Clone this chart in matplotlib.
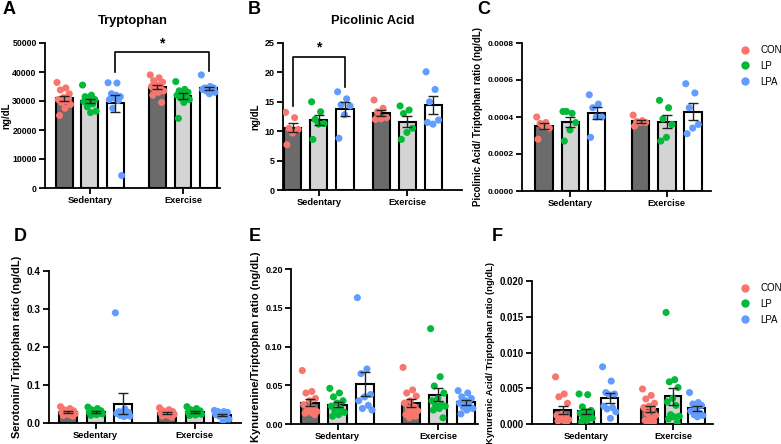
import numpy as np
import matplotlib
matplotlib.use("Agg")
import matplotlib.pyplot as plt
from matplotlib.lines import Line2D

plt.rcParams['font.family'] = ['Liberation Sans', 'DejaVu Sans']

# ---- data ----
groups = ["CON", "LP", "LPA"]
conditions = ["Sedentary", "Exercise"]

tryptophan = {
    "sed": [
        [36400, 34500, 33800, 32500, 31200, 30500, 30000, 29500, 28800, 27500, 25000, 31000],
        [35500, 32000, 31000, 30500, 30000, 29800, 29000, 28000, 26500, 26000, 31500],
        [36300, 36200, 32500, 31500, 31000, 30500, 30200, 27500, 4300, 32000],
    ],
    "ex": [
        [39000, 38000, 37000, 36500, 35500, 35000, 34500, 34000, 33500, 33000, 32000, 29500],
        [36700, 34000, 33500, 33000, 32500, 32000, 31500, 31000, 30500, 29500, 24000],
        [39000, 35000, 34500, 34500, 34000, 34000, 33800, 33500, 33000, 32500],
    ],
}
picolinic = {
    "sed": [
        [13.2, 12.3, 10.5, 10.3, 9.7, 7.7],
        [15.0, 13.3, 12.0, 11.3, 11.2, 8.6],
        [16.7, 15.5, 14.5, 14.3, 12.8, 8.8],
    ],
    "ex": [
        [15.3, 13.9, 13.3, 12.3, 12.1, 12.0],
        [14.3, 13.6, 13.0, 10.5, 9.8, 8.6],
        [20.1, 17.1, 15.0, 11.9, 11.2, 11.5],
    ],
}
pic_trp = {
    "sed": [
        [0.00040, 0.00037, 0.000365, 0.00034, 0.00035, 0.00028],
        [0.00043, 0.00042, 0.00043, 0.00037, 0.00033, 0.00027],
        [0.00052, 0.00047, 0.00045, 0.00040, 0.00040, 0.00029],
    ],
    "ex": [
        [0.00041, 0.00038, 0.000375, 0.00037, 0.00037, 0.00035],
        [0.00049, 0.00045, 0.00039, 0.00036, 0.00029, 0.00027],
        [0.00058, 0.00053, 0.00045, 0.00036, 0.00034, 0.00031],
    ],
}
ser_trp = {
    "sed": [
        [0.043, 0.038, 0.035, 0.032, 0.030, 0.028, 0.026, 0.025, 0.024, 0.022, 0.020, 0.018],
        [0.042, 0.038, 0.035, 0.032, 0.030, 0.028, 0.026, 0.025, 0.024, 0.022, 0.020],
        [0.290, 0.037, 0.030, 0.028, 0.026, 0.025, 0.022, 0.020, 0.018, 0.017],
    ],
    "ex": [
        [0.040, 0.035, 0.032, 0.030, 0.028, 0.026, 0.025, 0.023, 0.022, 0.020, 0.018, 0.015],
        [0.043, 0.038, 0.035, 0.032, 0.030, 0.028, 0.026, 0.025, 0.023, 0.021, 0.020],
        [0.033, 0.030, 0.030, 0.028, 0.025, 0.022, 0.020, 0.018, 0.010, 0.003],
    ],
}
kyn_trp = {
    "sed": [
        [0.069, 0.042, 0.040, 0.033, 0.030, 0.025, 0.020, 0.018, 0.016, 0.015, 0.014, 0.012, 0.020],
        [0.046, 0.040, 0.035, 0.030, 0.027, 0.023, 0.020, 0.017, 0.015, 0.012, 0.010],
        [0.163, 0.071, 0.065, 0.038, 0.035, 0.030, 0.024, 0.020, 0.018],
    ],
    "ex": [
        [0.073, 0.044, 0.040, 0.036, 0.030, 0.027, 0.022, 0.020, 0.017, 0.015, 0.012, 0.010, 0.008],
        [0.123, 0.061, 0.049, 0.040, 0.033, 0.030, 0.025, 0.024, 0.023, 0.020, 0.018, 0.008],
        [0.043, 0.040, 0.035, 0.033, 0.030, 0.027, 0.025, 0.022, 0.020, 0.018, 0.013],
    ],
}
kyna_trp = {
    "sed": [
        [0.0066, 0.0042, 0.0038, 0.0029, 0.0014, 0.0012, 0.0010, 0.0008, 0.0006, 0.0005, 0.0004, 0.0003],
        [0.0042, 0.0041, 0.0024, 0.0019, 0.0017, 0.0015, 0.0012, 0.0010, 0.0008, 0.0005, 0.0003, 0.0014],
        [0.0080, 0.0060, 0.0044, 0.0042, 0.0041, 0.0025, 0.0023, 0.0021, 0.0017, 0.0008],
    ],
    "ex": [
        [0.0049, 0.0040, 0.0035, 0.0029, 0.0025, 0.0023, 0.0022, 0.0015, 0.0012, 0.0008, 0.0005, 0.0003, 0.0003],
        [0.0156, 0.0062, 0.0059, 0.0051, 0.0036, 0.0031, 0.0026, 0.0013, 0.0011, 0.0010, 0.0007, 0.0002],
        [0.0044, 0.0030, 0.0028, 0.0026, 0.0022, 0.0018, 0.0015, 0.0013, 0.0012, 0.0010],
    ],
}

dot_colors = ["#F8766D", "#00BA38", "#619CFF"]
bar_colors = ["#6b6b6b", "#d4d4d4", "#ffffff"]

W, H = 781, 444
fig = plt.figure(figsize=(W / 100, H / 100), dpi=100)


def px_axes(left, right, top, bottom):
    return fig.add_axes([left / W, 1 - bottom / H, (right - left) / W, (bottom - top) / H])


def panel(ax, data, gap, xlim, ylim, yticks, fmt, ysize, bw=0.66):
    pos = [0, 1, 2, gap, gap + 1, gap + 2]
    sets = data["sed"] + data["ex"]
    for i, (x, vals) in enumerate(zip(pos, sets)):
        g = i % 3
        vals = np.array(vals)
        mean = vals.mean()
        sem = vals.std(ddof=1) / np.sqrt(len(vals))
        ax.bar(x, mean, width=bw, color=bar_colors[g], edgecolor="black", linewidth=1.5, zorder=2)
        # deterministic spread of dots across the bar
        offs = ((np.arange(len(vals)) * 0.618) % 1 - 0.5) * bw * 0.85
        ax.scatter(x + offs, vals, s=26, color=dot_colors[g], edgecolors="none", zorder=3)
        ax.errorbar(x, mean, yerr=sem, color="#222222", lw=1, capsize=3.5, capthick=1, zorder=4)
    ax.set_xlim(*xlim)
    ax.set_ylim(*ylim)
    ax.set_yticks(yticks)
    ax.set_yticklabels([fmt % t for t in yticks])
    ax.set_xticks([1, gap + 1])
    ax.set_xticklabels(conditions)
    for s in ["top", "right"]:
        ax.spines[s].set_visible(False)
    for s in ["left", "bottom"]:
        ax.spines[s].set_linewidth(1.3)
    ax.tick_params(width=1.3, length=4, pad=2)
    ax.tick_params(axis="x", labelsize=6.7)
    ax.tick_params(axis="y", labelsize=ysize)
    for lab in ax.get_xticklabels() + ax.get_yticklabels():
        lab.set_fontweight("bold")
    return pos


def bracket(ax, x1, x2, y_top, y1, y2, star_y):
    ax.plot([x1, x1, x2, x2], [y1, y_top, y_top, y2], color="black", lw=1.2, clip_on=False, zorder=5)
    ax.text((x1 + x2) / 2, star_y, "*", ha="center", va="center", fontsize=10, fontweight="bold")


# Panel A
axA = px_axes(45, 220, 43, 188)
pA = panel(axA, tryptophan, 3.65, (-0.75, 6.1), (0, 50000), np.arange(0, 50001, 10000), "%d", 6.3)
axA.set_ylabel("ng/dL", fontsize=7, fontweight="bold", labelpad=1)
axA.set_title("Tryptophan", fontsize=9.3, fontweight="bold", pad=14)
bracket(axA, pA[2], pA[5], 46800, 40000, 40500, 49800)

# Panel B
axB = px_axes(283, 462, 43, 190)
pB = panel(axB, picolinic, 3.4, (-0.38, 6.5), (0, 25), np.arange(0, 26, 5), "%d", 6.5)
axB.set_ylabel("ng/dL", fontsize=7, fontweight="bold", labelpad=3)
axB.set_title("Picolinic Acid", fontsize=9.3, fontweight="bold", pad=14)
bracket(axB, pB[0], pB[2], 22.7, 14.3, 17.5, 24.3)

# Panel C
axC = px_axes(522, 711, 43, 191)
panel(axC, pic_trp, 3.67, (-0.84, 6.35), (0, 0.0008), np.arange(0, 0.00081, 0.0002), "%.4f", 6.0)
axC.set_ylabel("Picolinic Acid/ Triptophan ratio (ng/dL)", fontsize=7, fontweight="bold", labelpad=3)

# Panel D
axD = px_axes(49, 241, 271, 423)
panel(axD, ser_trp, 3.61, (-0.7, 6.3), (0, 0.4), np.arange(0, 0.41, 0.1), "%.1f", 7.2)
axD.set_ylabel("Serotonin/ Triptophan ratio (ng/dL)", fontsize=7.9, fontweight="bold", labelpad=3)

# Panel E
axE = px_axes(291, 478, 269, 424)
panel(axE, kyn_trp, 3.66, (-0.69, 6.1), (0, 0.2), np.arange(0, 0.201, 0.05), "%.2f", 6.5)
axE.set_ylabel("Kynurenine/Triptophan ratio (ng/dL)", fontsize=8.0, fontweight="bold", labelpad=3)

# Panel F
axF = px_axes(532, 713, 281, 424)
panel(axF, kyna_trp, 3.7, (-1.3, 6.4), (0, 0.02), np.arange(0, 0.0201, 0.005), "%.3f", 6.9, bw=0.7)
axF.set_ylabel("Kynurenic Acid/ Triptophan ratio (ng/dL)", fontsize=6.8, fontweight="bold", labelpad=3)

# legends
handles = [Line2D([], [], marker="o", ls="none", color=c, markersize=5) for c in dot_colors]
for y in (45, 283):
    fig.legend(handles, groups, loc="upper left", bbox_to_anchor=(740 / W, 1 - y / H),
               frameon=False, fontsize=7, handlelength=1, handletextpad=1.1,
               labelspacing=0.6, borderpad=0, borderaxespad=0)

# panel letters
letters = [("A", 3, 10), ("B", 248, 10), ("C", 477, 10), ("D", 14, 236), ("E", 249, 236), ("F", 492, 236)]
for t, x, y in letters:
    fig.text(x / W, 1 - y / H, t, fontsize=13, fontweight="bold", va="center", ha="left")

fig.savefig("out.png", dpi=100)
